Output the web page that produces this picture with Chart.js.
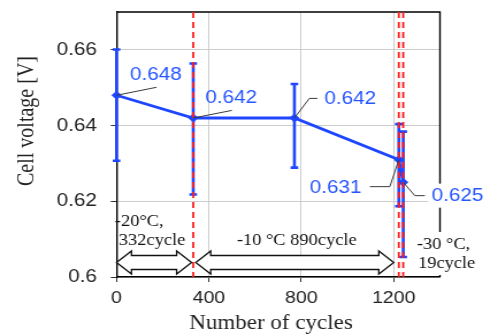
<!DOCTYPE html>
<html>
<head>
<meta charset="utf-8">
<script src="https://cdn.jsdelivr.net/npm/chart.js@4.4.1/dist/chart.umd.min.js"></script>
<style>
  html, body { margin: 0; padding: 0; background: #fff; overflow: hidden; }
  /* the figure is drawn slightly condensed and widened to the page width */
  #wrap { width: 426px; height: 335px; transform: scaleX(1.1502); transform-origin: 0 0; }
</style>
</head>
<body>
<div id="wrap"><canvas id="c" width="426" height="335"></canvas></div>
<script>
// Measured cell voltage over the cycling test
const cycles   = [0, 332, 770, 1222, 1241];
const voltage  = [0.648, 0.642, 0.642, 0.631, 0.625];
const errLow   = [0.6307, 0.6218, 0.6289, 0.6187, 0.6053];
const errHigh  = [0.6601, 0.6564, 0.6510, 0.6404, 0.6384];

// Temperature phases: boundaries (cycle count) and arrow spans
const phaseBoundaries = [332, 1222, 1241];
const phaseSpans = [[0, 325], [343, 1200]];
const phaseText = ['-20°C,', '332cycle', '-10 °C 890cycle', '-30 °C,', '19cycle'];

const xTicks = [0, 400, 800, 1200];
const yTicks = [0.6, 0.62, 0.64, 0.66];
const xTitle = 'Number of cycles';
const yTitle = 'Cell voltage [V]';

const BLUE = '#1e46ff';
const LABEL_BLUE = '#2656ff';
const SANS = '"Liberation Sans", Arial, sans-serif';
const SERIF = '"Liberation Serif", "Times New Roman", serif';

// leader line + value label placement, pixel offsets from each point
const labelLayout = [
  { leader: [[34.8, -8]],              text: [11.6, -20],  align: 'left' },
  { leader: [[33.6, -7.6]],            text: [10.4, -20],  align: 'left' },
  { leader: [[13, -19.6], [20, -19.6]], text: [26, -19],    align: 'left' },
  { leader: [[-7.8, 27], [-25.2, 27]], text: [-32.4, 27.9], align: 'right' },
  { leader: [[10.1, 13.3], [18.8, 13.3]], text: [24.6, 13.3], align: 'left', box: true }
];

function doubleArrow(ctx, x1, x2, yc) {
  const bh = 7, hh = 11.5, hl = 13;
  ctx.beginPath();
  ctx.moveTo(x1, yc);
  ctx.lineTo(x1 + hl, yc - hh);
  ctx.lineTo(x1 + hl, yc - bh);
  ctx.lineTo(x2 - hl, yc - bh);
  ctx.lineTo(x2 - hl, yc - hh);
  ctx.lineTo(x2, yc);
  ctx.lineTo(x2 - hl, yc + hh);
  ctx.lineTo(x2 - hl, yc + bh);
  ctx.lineTo(x1 + hl, yc + bh);
  ctx.lineTo(x1 + hl, yc + hh);
  ctx.closePath();
  ctx.fillStyle = '#fff';
  ctx.fill();
  ctx.strokeStyle = '#111';
  ctx.lineWidth = 1.3;
  ctx.stroke();
}

const decor = {
  id: 'decor',
  beforeDatasetsDraw(chart) {
    const { ctx, chartArea: a, scales: { x, y } } = chart;
    ctx.save();
    // top and right frame
    ctx.strokeStyle = '#000';
    ctx.lineWidth = 1.4;
    ctx.beginPath();
    ctx.moveTo(a.left, a.top);
    ctx.lineTo(a.right, a.top);
    ctx.lineTo(a.right, a.bottom);
    ctx.stroke();
    // error bars
    ctx.strokeStyle = BLUE;
    ctx.lineWidth = 2.6;
    cycles.forEach((c, i) => {
      const px = x.getPixelForValue(c);
      const lo = y.getPixelForValue(errLow[i]);
      const hi = y.getPixelForValue(errHigh[i]);
      ctx.beginPath();
      ctx.moveTo(px, lo); ctx.lineTo(px, hi);
      ctx.moveTo(px - 3.3, lo); ctx.lineTo(px + 3.3, lo);
      ctx.moveTo(px - 3.3, hi); ctx.lineTo(px + 3.3, hi);
      ctx.stroke();
    });
    ctx.restore();
  },
  afterDatasetsDraw(chart) {
    const { ctx, chartArea: a, scales: { x, y } } = chart;
    ctx.save();

    // phase boundaries
    ctx.strokeStyle = '#ff1e1e';
    ctx.lineWidth = 1.8;
    ctx.setLineDash([6, 4]);
    phaseBoundaries.forEach(c => {
      const px = x.getPixelForValue(c);
      ctx.beginPath();
      ctx.moveTo(px, a.top);
      ctx.lineTo(px, a.bottom);
      ctx.stroke();
    });
    ctx.setLineDash([]);

    // value labels with leader lines
    ctx.font = '18px ' + SANS;
    ctx.textBaseline = 'middle';
    voltage.forEach((v, i) => {
      const L = labelLayout[i];
      const px = x.getPixelForValue(cycles[i]);
      const py = y.getPixelForValue(v);
      const txt = v.toFixed(3);
      const tx = px + L.text[0], ty = py + L.text[1];
      if (L.box) {
        const w = ctx.measureText(txt).width;
        ctx.fillStyle = '#fff';
        ctx.fillRect(tx - 3, ty - 12, w + 10, 24);
      }
      ctx.strokeStyle = '#3a3a3a';
      ctx.lineWidth = 1;
      ctx.beginPath();
      ctx.moveTo(px, py);
      L.leader.forEach(p => ctx.lineTo(px + p[0], py + p[1]));
      ctx.stroke();
      ctx.fillStyle = LABEL_BLUE;
      ctx.textAlign = L.align;
      ctx.fillText(txt, tx, ty);
    });

    // phase arrows
    const ay = a.bottom - 14.5;
    phaseSpans.forEach(s => doubleArrow(ctx, x.getPixelForValue(s[0]), x.getPixelForValue(s[1]), ay));

    // phase descriptions
    const bx = x.getPixelForValue(1300);
    ctx.fillStyle = '#fff';
    ctx.fillRect(bx - 3.5, a.bottom - 45, 58, 43);
    ctx.font = '16px ' + SERIF;
    ctx.fillStyle = '#111';
    ctx.textAlign = 'left';
    const x0 = x.getPixelForValue(0);
    ctx.fillText(phaseText[0], x0 - 1.5, a.bottom - 55.3);
    ctx.fillText(phaseText[1], x0 + 2, a.bottom - 36.3);
    ctx.textAlign = 'center';
    ctx.fillText(phaseText[2], x.getPixelForValue(780), a.bottom - 36.3);
    ctx.textAlign = 'left';
    ctx.fillText(phaseText[3], bx, a.bottom - 32);
    ctx.fillText(phaseText[4], bx + 1, a.bottom - 13);
    ctx.restore();
  },
  afterDraw(chart) {
    const { ctx } = chart;
    ctx.save();
    ctx.fillStyle = '#222';
    ctx.font = '20px ' + SERIF;
    ctx.textAlign = 'center';
    ctx.textBaseline = 'middle';
    ctx.fillText(xTitle, 235.6, 324);
    ctx.translate(23.5, 121);
    ctx.rotate(-Math.PI / 2);
    ctx.fillText(yTitle, 0, 0);
    ctx.restore();
  }
};

new Chart(document.getElementById('c'), {
  type: 'scatter',
  data: {
    datasets: [{
      data: cycles.map((c, i) => ({ x: c, y: voltage[i] })),
      showLine: true,
      borderColor: BLUE,
      backgroundColor: BLUE,
      borderWidth: 2.8,
      pointStyle: 'rectRot',
      pointRadius: 4.5,
      pointBorderWidth: 0,
      clip: false
    }]
  },
  options: {
    responsive: false,
    animation: false,
    devicePixelRatio: 1,
    layout: { padding: { top: 12, right: 43.5, left: 0, bottom: 0 } },
    plugins: { legend: { display: false }, tooltip: { enabled: false } },
    scales: {
      x: {
        type: 'linear',
        min: 0, max: 1400,
        afterBuildTicks: s => { s.ticks = xTicks.map(v => ({ value: v })); },
        afterFit: s => { s.height = 58; s.paddingLeft = 0; s.paddingRight = 0; },
        grid: { color: '#cccccc', lineWidth: 1, tickLength: 5, tickColor: '#333' },
        border: { color: '#000', width: 1.4 },
        ticks: { color: '#222', font: { family: SANS, size: 17 }, padding: 6, maxRotation: 0, autoSkip: false,
                 callback: v => String(v) }
      },
      y: {
        min: 0.6, max: 0.67,
        afterBuildTicks: s => { s.ticks = yTicks.map(v => ({ value: v })); },
        afterFit: s => { s.width = 101.3; s.paddingTop = 0; s.paddingBottom = 0; },
        grid: { color: '#cccccc', lineWidth: 1, tickLength: 5, tickColor: '#333' },
        border: { color: '#000', width: 1.4 },
        ticks: { color: '#222', font: { family: SANS, size: 18 }, padding: 12,
                 callback: v => String(+Number(v).toFixed(2)) }
      }
    }
  },
  plugins: [decor]
});
</script>
</body>
</html>
